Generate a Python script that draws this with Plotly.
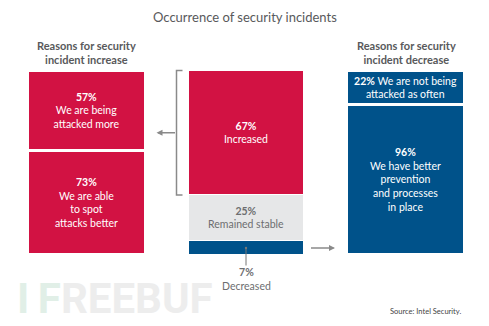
import plotly.graph_objects as go

# --- data -------------------------------------------------------------
columns = ["increase_reasons", "occurrence", "decrease_reasons"]
col_x = [86.5, 246, 406]              # column centres on the horizontal axis
col_width = [118, 115, 118]

increase_vals = [57, 73]
increase_text = ["We are being<br>attacked more", "We are able<br>to spot<br>attacks better"]

occ_vals = [67, 25, 7]
occ_text = ["Increased", "Remained stable", "Decreased"]

decrease_vals = [22, 96]
decrease_text = ["We are not being<br>attacked as often", "We have better<br>prevention<br>and processes<br>in place"]

RED = "#D21243"
BLUE = "#00528A"
GREY = "#E6E7E8"
FONT = "Lato, 'Open Sans', sans-serif"

W, H = 489, 326


def py(px):
    """page-pixel row -> paper y"""
    return 1 - px / H


# stacks are drawn bottom -> top
bottom_y = [increase_vals[1], occ_vals[2], decrease_vals[1]]
middle_y = [0, occ_vals[1], 0]
top_y = [increase_vals[0], occ_vals[0], decrease_vals[0]]

bottom_txt = [f"<b>{increase_vals[1]}%</b><br>{increase_text[1]}", "",
              f"<b>{decrease_vals[1]}%</b><br>{decrease_text[1]}"]
middle_txt = ["", f"<b>{occ_vals[1]}%</b><br>{occ_text[1]}", ""]
top_txt = [f"<b>{increase_vals[0]}%</b><br>{increase_text[0]}",
           f"<b>{occ_vals[0]}%</b><br>{occ_text[0]}",
           f"<b>{decrease_vals[0]}%</b> {decrease_text[0]}"]

line_w = [3, 1, 3]

fig = go.Figure()


def add_layer(y, colors, text, font_color):
    fig.add_trace(go.Bar(
        x=col_x, y=y, width=col_width,
        marker=dict(color=colors, line=dict(color="white", width=line_w)),
        text=text, textposition="inside", insidetextanchor="middle",
        textangle=0, constraintext="none",
        insidetextfont=dict(family=FONT, size=10.5, color=font_color),
        hoverinfo="skip", showlegend=False,
    ))


add_layer(bottom_y, [RED, BLUE, BLUE], bottom_txt, "white")
add_layer(middle_y, [GREY, GREY, GREY], middle_txt, "#6d6e70")
add_layer(top_y, [RED, RED, BLUE], top_txt, "white")

# shares inside the centre column (bars are normalised to percent)
occ_total = sum(occ_vals)
inc_share = occ_vals[0] / occ_total * 100
dec_share = occ_vals[2] / occ_total * 100

ARROW = "#8a8a8a"

# bracket around the "Increased" segment
bx = col_x[1] - col_width[1] / 2
fig.add_shape(type="path",
              path=f"M {bx - 6} 100 L {bx - 12} 100 L {bx - 12} {100 - inc_share} L {bx - 6} {100 - inc_share}",
              line=dict(color=ARROW, width=1.5))

# arrow from bracket to the increase reasons
fig.add_annotation(x=col_x[0] + col_width[0] / 2 + 11, y=100 - inc_share / 2,
                   ax=bx - 12, ay=100 - inc_share / 2, axref="x", ayref="y",
                   showarrow=True, arrowhead=2, arrowsize=0.8, arrowwidth=1.5,
                   arrowcolor=ARROW, text="")

# arrow from "Decreased" to the decrease reasons
fig.add_annotation(x=col_x[2] - col_width[2] / 2 - 12, y=dec_share / 2,
                   ax=col_x[1] + col_width[1] / 2 + 6, ay=dec_share / 2, axref="x", ayref="y",
                   showarrow=True, arrowhead=2, arrowsize=0.8, arrowwidth=1.5,
                   arrowcolor=ARROW, text="")

# site watermark (drawn first so it stays underneath the labels)
fig.add_annotation(x=15, y=py(298), yref="paper", xanchor="left", yanchor="middle",
                   text="<span style='color:#e1efe7'>I\u2009F</span>REEBUF",
                   showarrow=False,
                   font=dict(family="Roboto", weight=700, size=42, color="#ededed"))

# label for the thin "Decreased" segment
fig.add_annotation(x=col_x[1], y=dec_share / 2,
                   text=f"<b>{occ_vals[2]}%</b><br>{occ_text[2]}",
                   showarrow=True, arrowhead=6, arrowsize=0.6, arrowwidth=1,
                   arrowcolor="#777777", ax=0, ay=31, borderpad=0,
                   font=dict(family=FONT, size=10.5, color="#6d6e70"))

# titles
fig.add_annotation(x=245, y=py(17), yref="paper", yanchor="middle",
                   text="Occurrence of security incidents",
                   showarrow=False, font=dict(family=FONT, size=13, color="#58595b"))
fig.add_annotation(x=col_x[0], y=py(53), yref="paper", yanchor="middle",
                   text="<b>Reasons for security<br>incident increase</b>",
                   showarrow=False, font=dict(family=FONT, size=11, color="#58595b"))
fig.add_annotation(x=col_x[2], y=py(53), yref="paper", yanchor="middle",
                   text="<b>Reasons for security<br>incident decrease</b>",
                   showarrow=False, font=dict(family=FONT, size=11, color="#58595b"))
fig.add_annotation(x=463, y=py(311), yref="paper", xanchor="right", yanchor="middle",
                   text="Source: Intel Security.",
                   showarrow=False, font=dict(family=FONT, size=7.5, color="#444444"))

fig.update_layout(
    width=W, height=H,
    margin=dict(l=0, r=0, t=0, b=0),
    paper_bgcolor="white", plot_bgcolor="white",
    barmode="stack", barnorm="percent", bargap=0,
    xaxis=dict(range=[0, W], visible=False, fixedrange=True),
    yaxis=dict(range=[-38.86, 138.32], visible=False, fixedrange=True),
    font=dict(family=FONT),
)

fig.write_html("out.html")
